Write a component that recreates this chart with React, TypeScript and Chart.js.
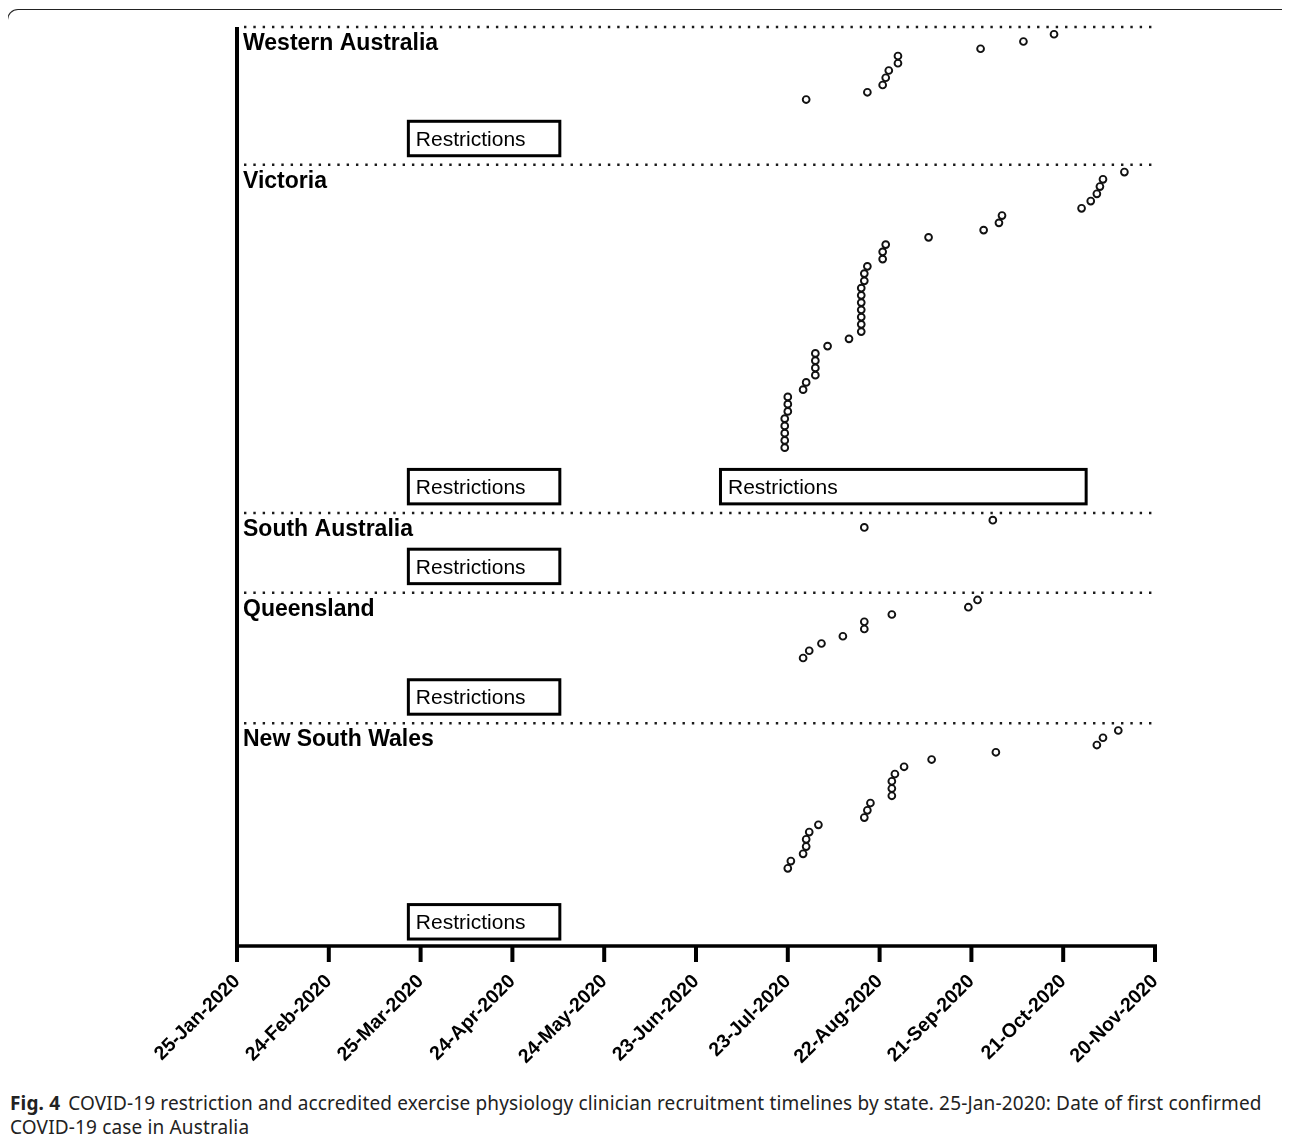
import React, { useEffect, useRef } from 'react';
import { Chart, registerables } from 'chart.js';

Chart.register(...registerables);

// ---- x axis (days since 25-Jan-2020) ----
const xTickDays = [0, 30, 60, 90, 120, 150, 180, 210, 240, 270, 300];
const xTickLabels = [
  '25-Jan-2020', '24-Feb-2020', '25-Mar-2020', '24-Apr-2020', '24-May-2020', '23-Jun-2020',
  '23-Jul-2020', '22-Aug-2020', '21-Sep-2020', '21-Oct-2020', '20-Nov-2020',
];

// ---- states (bottom to top) ----
const stateNames = ['New South Wales', 'Queensland', 'South Australia', 'Victoria', 'Western Australia'];
const sectionFloor = [0, 31, 49, 60, 108];
const sectionTop = [31, 49, 60, 108, 127];

// ---- recruitment: day of recruitment and cumulative rank position ----
const nswDays = [180, 181, 185, 186, 186, 187, 190, 205, 206, 207, 214, 214, 214, 215, 218, 227, 248, 281, 283, 288];
const nswRank = [11, 12, 13, 14, 15, 16, 17, 18, 19, 20, 21, 22, 23, 24, 25, 26, 27, 28, 29, 30];

const qldDays = [185, 187, 191, 198, 205, 205, 214, 239, 242];
const qldRank = [40, 41, 42, 43, 44, 45, 46, 47, 48];

const saDays = [205, 247];
const saRank = [58, 59];

const vicDays = [
  179, 179, 179, 179, 179, 180, 180, 180, 185, 186, 189, 189, 189, 189, 193, 200,
  204, 204, 204, 204, 204, 204, 204, 205, 205, 206, 211, 211, 212, 226, 244, 249,
  250, 276, 279, 281, 282, 283, 290,
];
const vicRank = [
  69, 70, 71, 72, 73, 74, 75, 76, 77, 78, 79, 80, 81, 82, 83, 84,
  85, 86, 87, 88, 89, 90, 91, 92, 93, 94, 95, 96, 97, 98, 99, 100,
  101, 102, 103, 104, 105, 106, 107,
];

const waDays = [186, 206, 211, 212, 213, 216, 216, 243, 257, 267];
const waRank = [117, 118, 119, 120, 121, 122, 123, 124, 125, 126];

// ---- restriction periods (state index, start day, end day) ----
const restrictionState = [4, 3, 3, 2, 1, 0];
const restrictionStart = [56, 56, 158, 56, 56, 56];
const restrictionEnd = [105.5, 105.5, 277.5, 105.5, 105.5, 105.5];

const FONT = '"Liberation Sans", Arial, Helvetica, sans-serif';

function pts(days: number[], ranks: number[]) {
  return days.map((d, i) => ({ x: d, y: ranks[i] }));
}

const overlayPlugin = {
  id: 'overlay',
  beforeDatasetsDraw(chart: any) {
    const { ctx, chartArea: a, scales } = chart;
    const y = scales.y;
    ctx.save();
    ctx.strokeStyle = '#1a1a1a';
    ctx.lineWidth = 2.4;
    ctx.setLineDash([2.4, 6.93]);
    sectionTop.forEach((v) => {
      const py = y.getPixelForValue(v);
      ctx.beginPath();
      ctx.moveTo(a.left + 7, py);
      ctx.lineTo(a.right + 3, py);
      ctx.stroke();
    });
    ctx.setLineDash([]);
    ctx.restore();
  },
  afterDatasetsDraw(chart: any) {
    const { ctx, chartArea: a, scales } = chart;
    const x = scales.x;
    const y = scales.y;
    ctx.save();
    ctx.strokeStyle = '#000';
    // y axis line
    ctx.lineWidth = 4;
    ctx.beginPath();
    ctx.moveTo(a.left, a.top);
    ctx.lineTo(a.left, a.bottom + 1.8);
    ctx.stroke();
    // x axis line
    ctx.lineWidth = 3.7;
    ctx.beginPath();
    ctx.moveTo(a.left - 2, a.bottom);
    ctx.lineTo(a.right + 2, a.bottom);
    ctx.stroke();
    // tick marks
    ctx.lineWidth = 4;
    xTickDays.forEach((d) => {
      const px = x.getPixelForValue(d);
      ctx.beginPath();
      ctx.moveTo(px, a.bottom);
      ctx.lineTo(px, a.bottom + 16);
      ctx.stroke();
    });
    // restriction boxes
    restrictionState.forEach((s, i) => {
      const x0 = x.getPixelForValue(restrictionStart[i]);
      const x1 = x.getPixelForValue(restrictionEnd[i]);
      const yb = y.getPixelForValue(sectionFloor[s] + 1.25);
      const yt = y.getPixelForValue(sectionFloor[s] + 6.0);
      ctx.fillStyle = '#fff';
      ctx.fillRect(x0, yt, x1 - x0, yb - yt);
      ctx.lineWidth = 3;
      ctx.strokeStyle = '#000';
      ctx.strokeRect(x0, yt, x1 - x0, yb - yt);
      ctx.fillStyle = '#000';
      ctx.font = `21px ${FONT}`;
      ctx.textAlign = 'left';
      ctx.textBaseline = 'alphabetic';
      ctx.fillText('Restrictions', x0 + 7.5, (yt + yb) / 2 + 7.5);
    });
    // state labels
    ctx.fillStyle = '#000';
    ctx.font = `bold 23px ${FONT}`;
    ctx.textAlign = 'left';
    ctx.textBaseline = 'alphabetic';
    stateNames.forEach((name, i) => {
      const py = y.getPixelForValue(sectionTop[i]);
      ctx.fillText(name, a.left + 6, py + 23);
    });
    ctx.restore();
  },
};

export default function App() {
  const ref = useRef<HTMLCanvasElement>(null);

  useEffect(() => {
    const canvas = ref.current;
    if (!canvas) return;
    const pointStyle = {
      showLine: false,
      pointRadius: 3.4,
      pointHoverRadius: 3.4,
      pointBorderWidth: 1.9,
      pointBorderColor: '#111',
      pointBackgroundColor: '#fff',
    };
    const chart = new Chart(canvas, {
      type: 'scatter',
      data: {
        datasets: [
          { label: stateNames[0], data: pts(nswDays, nswRank), ...pointStyle },
          { label: stateNames[1], data: pts(qldDays, qldRank), ...pointStyle },
          { label: stateNames[2], data: pts(saDays, saRank), ...pointStyle },
          { label: stateNames[3], data: pts(vicDays, vicRank), ...pointStyle },
          { label: stateNames[4], data: pts(waDays, waRank), ...pointStyle },
        ],
      },
      options: {
        animation: false,
        responsive: false,
        maintainAspectRatio: false,
        events: [],
        layout: { padding: { left: 237, right: 135, top: 27, bottom: 14 } },
        plugins: { legend: { display: false }, tooltip: { enabled: false } },
        scales: {
          x: {
            type: 'linear',
            min: 0,
            max: 300,
            afterBuildTicks: (s: any) => {
              s.ticks = xTickDays.map((v) => ({ value: v }));
            },
            afterFit: (s: any) => {
              s.height = 130;
            },
            grid: { display: false, drawTicks: false },
            border: { display: false },
            ticks: {
              autoSkip: false,
              minRotation: 45,
              maxRotation: 45,
              padding: 24,
              color: '#000',
              font: { family: FONT, size: 19.5, weight: 'bold' },
              callback: (_v: any, i: number) => xTickLabels[i],
            },
          },
          y: {
            type: 'linear',
            min: 0.29,
            max: 127,
            display: false,
          },
        },
      },
      plugins: [overlayPlugin],
    } as any);
    return () => chart.destroy();
  }, []);

  return (
    <div style={{ position: 'relative', width: 1290, height: 1147, margin: -8, overflow: 'hidden', background: '#fff' }}>
      <div
        style={{
          position: 'absolute',
          left: 7,
          top: 9,
          width: 1290,
          height: 1200,
          borderTop: '1.3px solid #222',
          borderLeft: '1.3px solid #222',
          borderRight: '1.3px solid #222',
          borderRadius: '11px 11px 0 0',
          boxSizing: 'border-box',
        }}
      />
      <canvas
        ref={ref}
        width={1290}
        height={1090}
        style={{ position: 'absolute', left: 0, top: 0, width: 1290, height: 1090 }}
      />
      <div
        style={{
          position: 'absolute',
          left: 10,
          top: 1091,
          fontFamily: '"Noto Sans", Lato, sans-serif',
          fontSize: 19,
          letterSpacing: 0.15,
          lineHeight: '24px',
          color: '#222',
          whiteSpace: 'nowrap',
        }}
      >
        <span style={{ fontWeight: 'bold', marginRight: 8 }}>Fig. 4</span>
        COVID-19 restriction and accredited exercise physiology clinician recruitment timelines by state. 25-Jan-2020: Date of first confirmed
        <br />
        COVID-19 case in Australia
      </div>
    </div>
  );
}
